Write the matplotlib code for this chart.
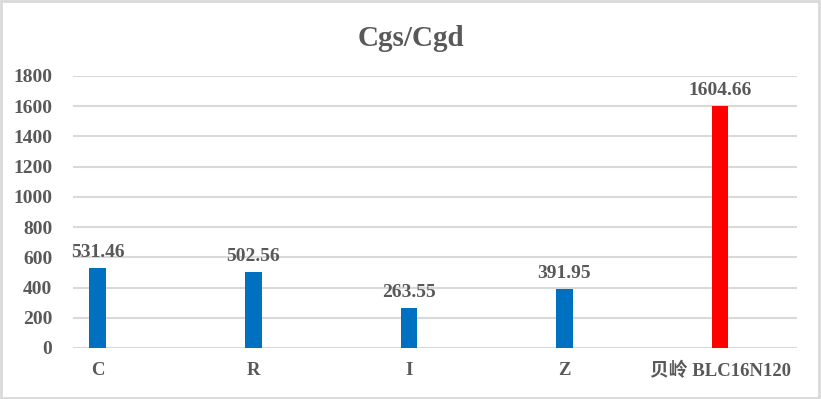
import matplotlib
matplotlib.use("Agg")
import matplotlib.pyplot as plt
from matplotlib.patches import Rectangle

categories = ["C", "R", "I", "Z", "贝岭 BLC16N120"]
values = [531.46, 502.56, 263.55, 391.95, 1604.66]
colors = ["#0070C0", "#0070C0", "#0070C0", "#0070C0", "#FF0000"]
yticks = [0, 200, 400, 600, 800, 1000, 1200, 1400, 1600, 1800]
title = "Cgs/Cgd"

FAM = ["Liberation Serif", "Noto Sans CJK SC"]
TXT = "#595959"

fig = plt.figure(figsize=(8.21, 3.99), dpi=100)
ax = fig.add_axes([73/821, 1-348/399, (797-73)/821, (348-76)/399])

x = list(range(len(categories)))
bars = ax.bar(x, values, width=0.108, color=colors, zorder=3)
for xi, v in zip(x, values):
    ax.annotate(f"{v:.2f}", (xi, v), xytext=(0, 5), textcoords="offset points",
                ha="center", va="bottom", fontsize=14, fontweight="bold",
                color=TXT, family=FAM)

ax.set_xlim(-0.16, 4.495)
ax.set_ylim(0, 1800)
ax.set_yticks(yticks)
ax.set_yticklabels([str(t) for t in yticks], fontsize=14, fontweight="bold", color=TXT, family=FAM)
ax.set_xticks(x)
ax.set_xticklabels(categories, fontsize=13.5, fontweight="bold", color=TXT, family=FAM)
ax.tick_params(axis="y", length=0, pad=15)
ax.tick_params(axis="x", length=0, pad=10)
ax.grid(axis="y", color="#D9D9D9", linewidth=1.5, zorder=0)
for s in ax.spines.values():
    s.set_visible(False)

fig.text(0.5, 1-38/399, title, ha="center", va="center", fontsize=21,
         fontweight="bold", color=TXT, family=FAM)

fig.patches.append(Rectangle((0.001, 0.002), 0.997, 0.995, transform=fig.transFigure,
                             fill=False, edgecolor="#D9D9D9", linewidth=2))

fig.savefig("out.png", dpi=100)
